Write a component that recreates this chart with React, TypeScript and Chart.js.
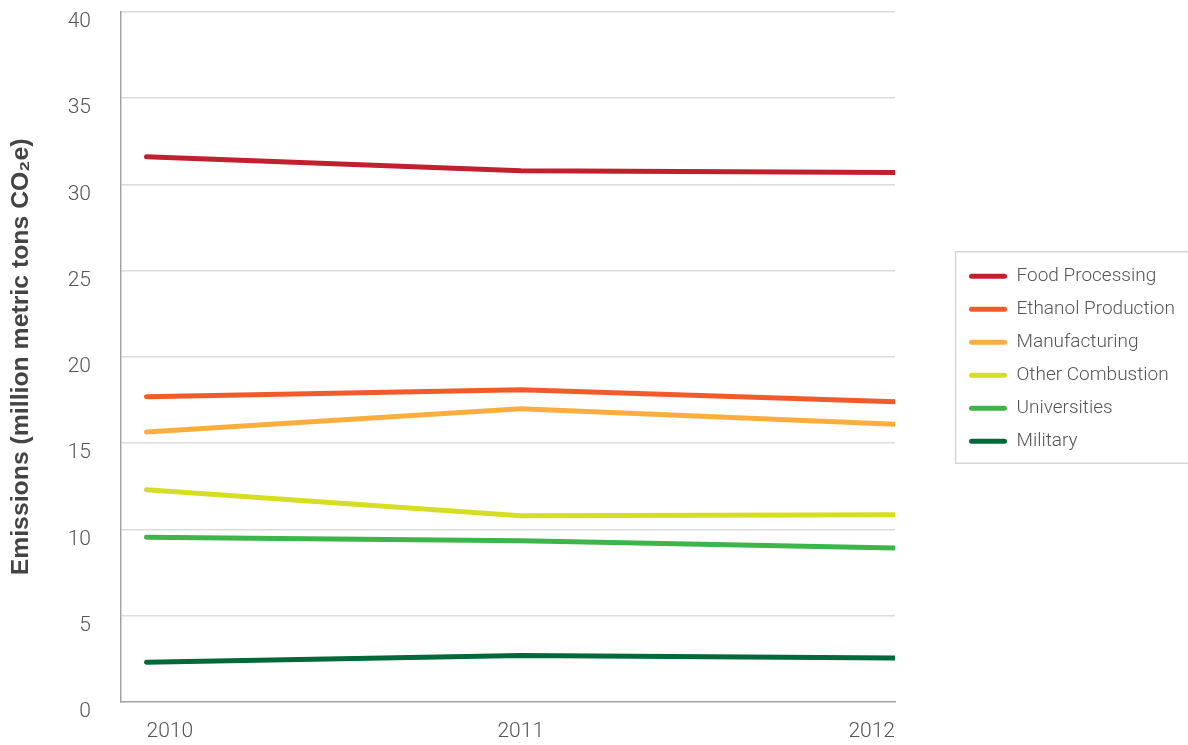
import React, { useEffect, useRef } from "react";
import { Chart, registerables } from "chart.js";

Chart.register(...registerables);

const years = [2010, 2011, 2012];
const seriesNames = [
  "Food Processing",
  "Ethanol Production",
  "Manufacturing",
  "Other Combustion",
  "Universities",
  "Military",
];
const foodProcessing = [31.6, 30.8, 30.7];
const ethanolProduction = [17.7, 18.1, 17.4];
const manufacturing = [15.65, 17.0, 16.1];
const otherCombustion = [12.3, 10.8, 10.85];
const universities = [9.55, 9.35, 8.92];
const military = [2.3, 2.7, 2.55];
const seriesColors = ["#c1202f", "#f15a2b", "#fbad40", "#d6de23", "#3db54a", "#03693a"];
const yTicks = [0, 5, 10, 15, 20, 25, 30, 35, 40];
const yTitle = "Emissions (million metric tons CO\u2082e)";

const seriesValues = [foodProcessing, ethanolProduction, manufacturing, otherCombustion, universities, military];

const W = 1188;
const H = 745;

export default function App() {
  const ref = useRef<HTMLCanvasElement | null>(null);

  useEffect(() => {
    if (!ref.current) return;
    const legendFont = { family: "Roboto", size: 19, weight: "300" as any };
    const boxW = 38;
    const legendPad = 14;
    const m = document.createElement("canvas").getContext("2d")!;
    m.font = `300 19px Roboto`;
    const maxText = Math.max(...seriesNames.map((n) => m.measureText(n).width));
    const legendW = legendPad + boxW + 9.5 + maxText + 10;
    const targetLegendLeft = 955;
    const padRight = Math.max(0, W - targetLegendLeft - legendW);
    const dummyW = 60 + Math.min(0, W - targetLegendLeft - legendW);

    const legendBorder = {
      id: "legendBorder",
      afterDraw(chart: any) {
        const lg = chart.legend;
        if (!lg || !lg.legendHitBoxes || !lg.legendHitBoxes.length) return;
        const hb = lg.legendHitBoxes;
        const top = hb[0].top - 15;
        const last = hb[hb.length - 1];
        const bottom = last.top + last.height + 12.5;
        const ctx = chart.ctx;
        ctx.save();
        ctx.strokeStyle = "#d6d6d6";
        ctx.lineWidth = 1.5;
        ctx.strokeRect(lg.left + 0.5, top, W + 10 - lg.left, bottom - top);
        ctx.restore();
      },
    };

    const chart = new Chart(ref.current, {
      type: "line",
      data: {
        datasets: seriesNames.map((name, i) => ({
          label: name,
          data: years.map((x, j) => ({ x, y: seriesValues[i][j] })),
          borderColor: seriesColors[i],
          backgroundColor: seriesColors[i],
          borderWidth: 5,
          borderCapStyle: "round",
          borderJoinStyle: "round",
          pointRadius: 0,
          pointHoverRadius: 0,
          tension: 0,
          fill: false,
        })),
      },
      options: {
        animation: false,
        responsive: true,
        maintainAspectRatio: false,
        layout: { padding: { left: 0, top: 0, right: padRight, bottom: 1.6 } },
        plugins: {
          tooltip: { enabled: false },
          legend: {
            position: "right",
            fullSize: false,
            align: "center",
            maxWidth: 400,
            title: {
              display: true,
              text: " ",
              padding: 0,
              font: { size: 3, lineHeight: 1.2 },
            },
            labels: {
              boxWidth: boxW,
              boxHeight: 5,
              padding: legendPad,
              color: "#555555",
              font: legendFont,
              generateLabels: (c: any) =>
                (Chart.defaults.plugins.legend.labels as any).generateLabels(c).map((l: any) => ({
                  ...l,
                  lineWidth: 0,
                  borderRadius: 2.5,
                  fillStyle: l.strokeStyle,
                })),
            },
          },
        },
        scales: {
          x: {
            type: "linear",
            min: 2010 - 25.5 / 374.5,
            max: 2012,
            afterBuildTicks: (s: any) => {
              s.ticks = years.map((v) => ({ value: v }));
            },
            grid: {
              display: true,
              drawOnChartArea: false,
              drawTicks: true,
              tickLength: 17.5,
              tickColor: "rgba(0,0,0,0)",
              color: "rgba(0,0,0,0)",
            },
            border: { display: true, color: "#a3a3a3", width: 1.5 },
            ticks: {
              autoSkip: false,
              maxRotation: 0,
              align: "inner",
              padding: 0,
              color: "#555555",
              font: { family: "Roboto", size: 21, weight: "300" as any, lineHeight: 1.14 },
              callback: (v: any) => String(v),
            },
          },
          y: {
            type: "linear",
            position: "left",
            min: 0,
            max: 40,
            afterBuildTicks: (s: any) => {
              s.ticks = yTicks.map((v) => ({ value: v }));
            },
            afterFit: (s: any) => {
              s.width = 121;
            },
            grid: {
              drawTicks: true,
              tickLength: 30,
              tickColor: "rgba(0,0,0,0)",
              lineWidth: 1.5,
              color: (ctx: any) => (ctx.tick && ctx.tick.value === 0 ? "rgba(0,0,0,0)" : "#dcdcdc"),
            },
            border: { display: true, color: "#a3a3a3", width: 1.5 },
            ticks: {
              padding: 0,
              labelOffset: 10,
              color: "#555555",
              font: { family: "Roboto", size: 21, weight: "300" as any, lineHeight: 1.14 },
              callback: (v: any) => String(v),
            },
            title: {
              display: true,
              text: yTitle,
              color: "#444444",
              padding: { top: 6, bottom: 0 },
              font: { family: "Liberation Sans", size: 24.8, weight: "bold", lineHeight: 1.2 },
            },
          },
          spacer: {
            type: "linear",
            position: "right",
            display: true,
            grid: { display: false, drawTicks: false },
            border: { display: false },
            ticks: { display: false, padding: 0 },
            afterFit: (s: any) => {
              s.width = dummyW;
            },
          },
        },
      } as any,
      plugins: [legendBorder],
    });
    return () => chart.destroy();
  }, []);

  return (
    <div style={{ position: "fixed", left: 0, top: 0, width: W, height: H, background: "#ffffff" }}>
      <canvas ref={ref} />
    </div>
  );
}
